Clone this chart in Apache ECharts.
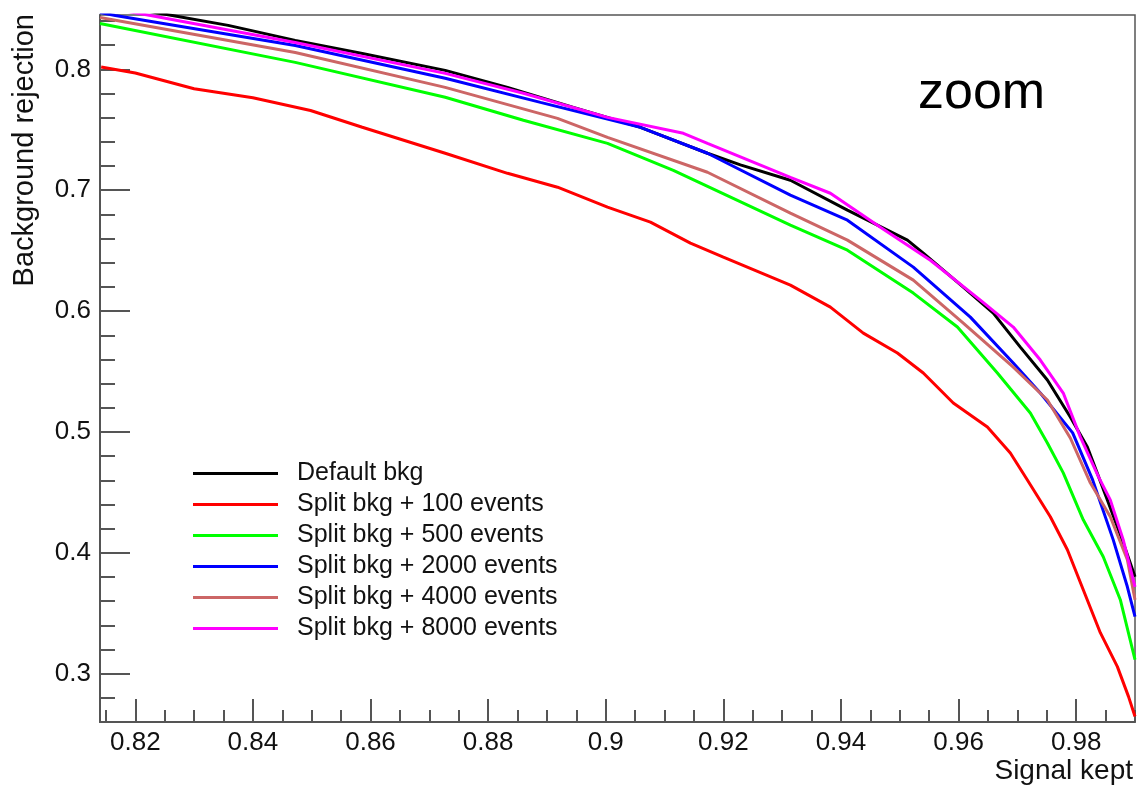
<!DOCTYPE html>
<html><head><meta charset="utf-8">
<script src="https://cdn.jsdelivr.net/npm/echarts@6/dist/echarts.min.js"></script>
<style>html,body{margin:0;padding:0;background:#fff}#c{width:1141px;height:787px}</style>
</head><body><div id="c"></div>
<script>
const seriesNames = ['Default bkg','Split bkg + 100 events','Split bkg + 500 events','Split bkg + 2000 events','Split bkg + 4000 events','Split bkg + 8000 events'];
const seriesColors = ['#000000','#ff0000','#00ff00','#0000ff','#cc6666','#ff00ff'];

const xMajorTicks = [0.82,0.84,0.86,0.88,0.90,0.92,0.94,0.96,0.98];
const xMinorTicks = [0.815,0.825,0.83,0.835,0.845,0.85,0.855,0.865,0.87,0.875,0.885,0.89,0.895,0.905,0.91,0.915,0.925,0.93,0.935,0.945,0.95,0.955,0.965,0.97,0.975,0.985,0.99];
const yMajorTicks = [0.3,0.4,0.5,0.6,0.7,0.8];
const yMinorTicks = [0.26,0.28,0.32,0.34,0.36,0.38,0.42,0.44,0.46,0.48,0.52,0.54,0.56,0.58,0.62,0.64,0.66,0.68,0.72,0.74,0.76,0.78,0.82,0.84];

// [signal kept, background rejection]
const defaultBkg = [[0.814,0.855],[0.8263,0.8446],[0.8358,0.8364],[0.8472,0.8240],[0.8586,0.8132],[0.8727,0.7992],[0.8833,0.7851],[0.8945,0.7686],[0.9059,0.7521],[0.9173,0.7306],[0.9229,0.7210],[0.9314,0.7083],[0.9411,0.6835],[0.9513,0.6587],[0.9540,0.6479],[0.9608,0.6198],[0.9659,0.5983],[0.9705,0.5702],[0.9751,0.5430],[0.9790,0.5124],[0.9819,0.4876],[0.9853,0.4438],[0.9880,0.4083],[0.990,0.3802]];
const split100 = [[0.8142,0.8020],[0.8200,0.7970],[0.8300,0.7840],[0.8400,0.7765],[0.8498,0.7660],[0.8586,0.7521],[0.8727,0.7306],[0.8833,0.7140],[0.8918,0.7025],[0.9003,0.6860],[0.9076,0.6736],[0.9144,0.6562],[0.9200,0.6446],[0.9314,0.6215],[0.9382,0.6033],[0.9438,0.5818],[0.9496,0.5653],[0.9540,0.5488],[0.9591,0.5240],[0.9649,0.5041],[0.9688,0.4826],[0.9717,0.4603],[0.9756,0.4298],[0.9785,0.4025],[0.9812,0.3694],[0.9841,0.3339],[0.9870,0.3058],[0.9889,0.2810],[0.990,0.2645]];
const split500 = [[0.8140,0.8380],[0.8472,0.8058],[0.8727,0.7769],[0.8860,0.7579],[0.9003,0.7388],[0.9115,0.7165],[0.9314,0.6711],[0.9411,0.6504],[0.9523,0.6149],[0.9598,0.5868],[0.9666,0.5488],[0.9722,0.5157],[0.9751,0.4909],[0.9778,0.4661],[0.9812,0.4273],[0.9846,0.3967],[0.9875,0.3612],[0.990,0.3116]];
const split2000 = [[0.814,0.847],[0.8166,0.8446],[0.8472,0.8198],[0.8727,0.7926],[0.8889,0.7727],[0.9059,0.7521],[0.9173,0.7306],[0.9314,0.6959],[0.9411,0.6752],[0.9523,0.6364],[0.9620,0.5950],[0.9693,0.5570],[0.9739,0.5322],[0.9794,0.4992],[0.9828,0.4603],[0.9863,0.4107],[0.9887,0.3719],[0.990,0.3471]];
const split4000 = [[0.8140,0.8430],[0.8472,0.8140],[0.8727,0.7851],[0.8918,0.7595],[0.9003,0.7438],[0.9173,0.7149],[0.9314,0.6810],[0.9411,0.6587],[0.9523,0.6256],[0.9608,0.5901],[0.9693,0.5537],[0.9751,0.5264],[0.9790,0.4950],[0.9824,0.4579],[0.9858,0.4298],[0.9887,0.3942],[0.990,0.3612]];
const split8000 = [[0.814,0.852],[0.8226,0.8446],[0.8472,0.8223],[0.8727,0.7967],[0.8860,0.7802],[0.9003,0.7603],[0.9132,0.7471],[0.9173,0.7388],[0.9314,0.7107],[0.9382,0.6975],[0.9467,0.6694],[0.9552,0.6421],[0.9637,0.6091],[0.9693,0.5868],[0.9739,0.5595],[0.9778,0.5322],[0.9807,0.4959],[0.9838,0.4628],[0.9858,0.4438],[0.9880,0.4107],[0.990,0.3719]];
const seriesData = [defaultBkg, split100, split500, split2000, split4000, split8000];

const FONT = '"Liberation Sans", Arial, Helvetica, sans-serif';
const axisCol = '#555';
const fmt = v => String(+(+v).toFixed(3));

const chart = echarts.init(document.getElementById('c'), null, {renderer:'canvas'});
chart.setOption({
  animation: false,
  backgroundColor: '#fff',
  grid: {left: 100, top: 15, right: 6, bottom: 65, show: true, borderColor: axisCol, borderWidth: 1.5, backgroundColor: 'transparent'},
  xAxis: [
    {type:'value', min:0.814, max:0.990, position:'bottom',
     axisLine:{show:true, lineStyle:{color:axisCol, width:2}},
     axisTick:{show:true, inside:true, length:23, customValues:xMajorTicks, lineStyle:{color:axisCol, width:2}},
     axisLabel:{show:true, customValues:xMajorTicks, formatter:fmt, margin:8, color:'#111', fontSize:26, fontFamily:FONT},
     splitLine:{show:false}},
    {type:'value', min:0.814, max:0.990, position:'bottom',
     axisLine:{show:false},
     axisTick:{show:true, inside:true, length:12, customValues:xMinorTicks, lineStyle:{color:axisCol, width:2}},
     axisLabel:{show:false}, splitLine:{show:false}}
  ],
  yAxis: [
    {type:'value', min:0.26, max:0.845, position:'left',
     axisLine:{show:true, lineStyle:{color:axisCol, width:2}},
     axisTick:{show:true, inside:true, length:30, customValues:yMajorTicks, lineStyle:{color:axisCol, width:2}},
     axisLabel:{show:true, customValues:yMajorTicks, formatter:fmt, margin:9, color:'#111', fontSize:26, fontFamily:FONT},
     splitLine:{show:false}},
    {type:'value', min:0.26, max:0.845, position:'left',
     axisLine:{show:false},
     axisTick:{show:true, inside:true, length:15, customValues:yMinorTicks, lineStyle:{color:axisCol, width:2}},
     axisLabel:{show:false}, splitLine:{show:false}}
  ],
  legend: {
    orient:'vertical', left:193, top:458, padding:0, itemGap:0,
    itemWidth:85, itemHeight:3, icon:'rect',
    data: seriesNames,
    textStyle:{fontSize:25, fontFamily:FONT, color:'#111', lineHeight:31, padding:[0,0,0,14]},
    selectedMode:false
  },
  graphic: [
    {type:'text', left:918, top:68, style:{text:'zoom', fontSize:52, fontFamily:FONT, fill:'#000'}},
    {type:'text', x:1133, y:771, style:{text:'Signal kept', fontSize:28, fontFamily:FONT, fill:'#111', align:'right', verticalAlign:'middle'}},
    {type:'text', x:25, y:14, rotation:Math.PI/2, style:{text:'Background rejection', fontSize:29, fontFamily:FONT, fill:'#111', align:'right', verticalAlign:'middle'}}
  ],
  series: seriesNames.map((n,i) => ({
    name:n, type:'line', data:seriesData[i], xAxisIndex:0, yAxisIndex:0,
    symbol:'none', showSymbol:false, smooth:false, clip:true,
    lineStyle:{color:seriesColors[i], width:3},
    itemStyle:{color:seriesColors[i]},
    z: 2 + i
  }))
});
</script></body></html>
